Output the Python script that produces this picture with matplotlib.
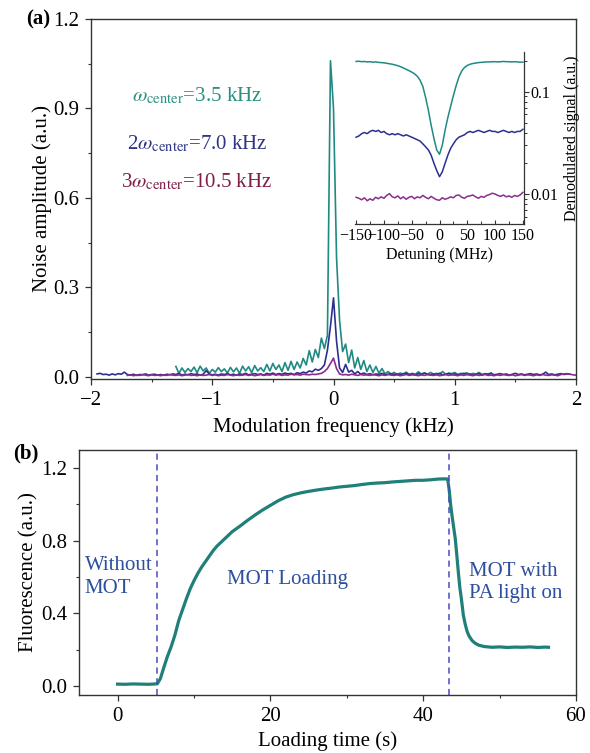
import numpy as np
import matplotlib
matplotlib.use("Agg")
import matplotlib.pyplot as plt
from matplotlib.ticker import MultipleLocator, FormatStrFormatter, FixedLocator, NullFormatter

plt.rcParams['font.family'] = ['Liberation Serif', 'DejaVu Serif']
plt.rcParams['mathtext.fontset'] = 'stix'
plt.rcParams['font.size'] = 15

# ---------------- data: panel (a) noise spectra ----------------
step = 0.025  # kHz sampling
teal_f0 = -1.30
teal = [0.035, 0.012, 0.030, 0.015, 0.028, 0.018, 0.033, 0.014, 0.036, 0.020,
        0.030, 0.012, 0.025, 0.016, 0.031, 0.018, 0.027, 0.013, 0.032, 0.017,
        0.030, 0.012, 0.036, 0.020, 0.034, 0.014, 0.038, 0.020, 0.031, 0.018,
        0.042, 0.020, 0.045, 0.025, 0.040, 0.018, 0.048, 0.022, 0.052, 0.025,
        0.050, 0.030, 0.062, 0.040, 0.088, 0.050, 0.092, 0.065, 0.130, 0.095,
        0.140, 1.060, 0.900, 0.400, 0.190, 0.085, 0.110, 0.048, 0.090, 0.030,
        0.065, 0.025, 0.055, 0.018, 0.040, 0.015, 0.035, 0.012, 0.028, 0.010,
        0.018, 0.009,
        0.015, 0.008, 0.013, 0.010, 0.016, 0.008, 0.012, 0.009, 0.017, 0.010,
        0.013, 0.008, 0.015, 0.009, 0.012, 0.010, 0.018, 0.008, 0.013, 0.011,
        0.015, 0.008, 0.012, 0.010, 0.014, 0.007, 0.012, 0.009, 0.015, 0.008,
        0.011, 0.010, 0.013]

blue_f0 = -1.95
blue = [0.010, 0.012, 0.008, 0.009, 0.006, 0.010, 0.007, 0.011, 0.009, 0.016,
        0.008, 0.006, 0.009, 0.005, 0.008, 0.007, 0.010, 0.006, 0.008, 0.009,
        0.006, 0.008, 0.005, 0.009, 0.007, 0.010, 0.008, 0.012, 0.006, 0.009,
        0.007, 0.011, 0.008, 0.010, 0.006, 0.009, 0.021, 0.010, 0.007, 0.009,
        0.006, 0.010, 0.008, 0.011, 0.007, 0.009, 0.006, 0.010, 0.008, 0.012,
        0.007, 0.009, 0.011, 0.008, 0.010, 0.006, 0.012, 0.009, 0.013, 0.008,
        0.011, 0.009, 0.013, 0.010, 0.012, 0.008, 0.014, 0.011, 0.016, 0.013,
        0.020, 0.017, 0.026, 0.022, 0.028, 0.040, 0.090, 0.170, 0.265, 0.120,
        0.030, 0.015, 0.042, 0.016, 0.022, 0.010, 0.018, 0.009, 0.013, 0.008,
        0.011, 0.007, 0.010, 0.008, 0.012, 0.007, 0.009, 0.011, 0.008, 0.010,
        0.007, 0.009, 0.012, 0.008, 0.010, 0.006, 0.011, 0.008, 0.013, 0.009,
        0.007, 0.010, 0.008, 0.012, 0.007, 0.009, 0.011, 0.008, 0.010, 0.007,
        0.009, 0.012, 0.008, 0.010, 0.006, 0.009, 0.011, 0.007, 0.010, 0.008,
        0.012, 0.007, 0.009, 0.011, 0.008, 0.010, 0.006, 0.009, 0.012, 0.008,
        0.010, 0.007, 0.009, 0.011, 0.008, 0.010, 0.007, 0.009, 0.016, 0.008,
        0.010, 0.007, 0.009, 0.011, 0.008, 0.010, 0.009]

purple_f0 = -1.70
purple = [0.005, 0.007, 0.004, 0.006, 0.005, 0.008, 0.006, 0.004, 0.007, 0.005,
          0.006, 0.004, 0.007, 0.005, 0.008, 0.006, 0.005, 0.007, 0.004, 0.006,
          0.008, 0.005, 0.006, 0.004, 0.007, 0.005, 0.006, 0.008, 0.005, 0.007,
          0.004, 0.006, 0.005, 0.008, 0.006, 0.004, 0.007, 0.005, 0.006, 0.008,
          0.005, 0.007, 0.004, 0.006, 0.008, 0.005, 0.007, 0.006, 0.009, 0.006,
          0.008, 0.005, 0.007, 0.006, 0.009, 0.007, 0.008, 0.006, 0.009, 0.008,
          0.007, 0.009, 0.008, 0.010, 0.012, 0.018, 0.028, 0.045, 0.063, 0.028,
          0.010, 0.007, 0.008, 0.006, 0.009, 0.007, 0.005, 0.008, 0.006, 0.007,
          0.005, 0.008, 0.006, 0.004, 0.007, 0.005, 0.008, 0.006, 0.005, 0.007,
          0.004, 0.006, 0.008, 0.005, 0.007, 0.006, 0.004, 0.007, 0.005, 0.008,
          0.006, 0.005, 0.007, 0.004, 0.006, 0.008, 0.005, 0.007, 0.006, 0.004,
          0.007, 0.005, 0.008, 0.006, 0.004, 0.007, 0.005, 0.006, 0.008, 0.005,
          0.006, 0.004, 0.007, 0.005, 0.008, 0.006, 0.005, 0.007, 0.004, 0.006,
          0.008, 0.005, 0.007, 0.006, 0.004, 0.007, 0.005, 0.008, 0.006, 0.005,
          0.007, 0.006, 0.004, 0.008, 0.010, 0.011, 0.009, 0.007, 0.006]

# ---------------- data: inset (demodulated signal vs detuning) ----------------
detuning = np.arange(-150, 151, 5)
inset_teal = [0.198, 0.199, 0.197, 0.198, 0.196, 0.197, 0.195, 0.196, 0.194, 0.193,
              0.192, 0.190, 0.188, 0.186, 0.183, 0.180, 0.176, 0.171, 0.166, 0.161,
              0.156, 0.150, 0.142, 0.130, 0.113, 0.088, 0.066, 0.047, 0.035, 0.027,
              0.0245, 0.030, 0.042, 0.056, 0.072, 0.092, 0.115, 0.140, 0.160, 0.173,
              0.181, 0.186, 0.189, 0.191, 0.193, 0.194, 0.195, 0.196, 0.196, 0.197,
              0.197, 0.196, 0.197, 0.198, 0.197, 0.197, 0.196, 0.197, 0.196, 0.195,
              0.195]
inset_blue = [0.036, 0.037, 0.039, 0.040, 0.039, 0.041, 0.042, 0.041, 0.042, 0.040,
              0.041, 0.039, 0.038, 0.039, 0.038, 0.039, 0.038, 0.037, 0.038, 0.037,
              0.036, 0.035, 0.034, 0.033, 0.031, 0.029, 0.027, 0.024, 0.020, 0.017,
              0.0148, 0.0165, 0.020, 0.024, 0.028, 0.031, 0.034, 0.036, 0.037, 0.038,
              0.040, 0.041, 0.040, 0.041, 0.042, 0.041, 0.040, 0.041, 0.042, 0.041,
              0.041, 0.040, 0.041, 0.042, 0.041, 0.040, 0.041, 0.040, 0.041, 0.041,
              0.043]
inset_purple = [0.0093, 0.0091, 0.0088, 0.0092, 0.0086, 0.0090, 0.0087, 0.0093, 0.0090, 0.0094,
                0.0091, 0.0097, 0.0101, 0.0094, 0.0092, 0.0096, 0.0090, 0.0094, 0.0089, 0.0093,
                0.0095, 0.0090, 0.0094, 0.0092, 0.0097, 0.0093, 0.0090, 0.0095, 0.0091, 0.0088,
                0.0087, 0.0092, 0.0089, 0.0091, 0.0094, 0.0092, 0.0097, 0.0098, 0.0093, 0.0091,
                0.0095, 0.0096, 0.0098, 0.0094, 0.0091, 0.0095, 0.0093, 0.0097, 0.0099, 0.0102,
                0.0100, 0.0097, 0.0095, 0.0098, 0.0094, 0.0096, 0.0093, 0.0097, 0.0095, 0.0098,
                0.0104]

# ---------------- data: panel (b) MOT loading ----------------
load_t = [0, 1, 2, 3, 4, 5, 5.2, 5.6, 6.0, 6.5, 7.0, 7.5, 8.0, 8.5, 9.0, 9.5,
          10, 10.5, 11, 11.5, 12, 12.5, 13, 13.5, 14, 15, 16, 17, 18, 19, 20,
          21, 22, 23, 24, 25, 26, 27, 28, 29, 30, 31, 32, 33, 34, 35, 36, 37,
          38, 39, 40, 41, 42, 43, 43.2, 43.4, 43.6, 43.8, 44.0, 44.2, 44.4,
          44.6, 44.8, 45.0, 45.25, 45.5, 45.75, 46.0, 46.4, 46.8, 47.3, 48,
          49, 50, 51, 52, 53, 54, 55, 56, 56.4]
load_v = [0.010, 0.009, 0.011, 0.010, 0.009, 0.011, 0.012, 0.040, 0.095, 0.160,
          0.215, 0.280, 0.360, 0.420, 0.480, 0.535, 0.580, 0.620, 0.655, 0.685,
          0.715, 0.745, 0.770, 0.790, 0.810, 0.850, 0.880, 0.912, 0.942, 0.970,
          0.995, 1.020, 1.040, 1.054, 1.064, 1.072, 1.079, 1.085, 1.090, 1.096,
          1.100, 1.104, 1.110, 1.115, 1.118, 1.120, 1.124, 1.127, 1.130, 1.133,
          1.133, 1.136, 1.140, 1.141, 1.140, 1.080, 0.995, 0.930, 0.870, 0.810,
          0.720, 0.626, 0.540, 0.480, 0.390, 0.340, 0.300, 0.275, 0.250, 0.235,
          0.224, 0.217, 0.213, 0.215, 0.212, 0.214, 0.213, 0.215, 0.212, 0.214,
          0.213]
markers_t = [5.2, 43.4]

TEAL = '#1f8a82'
BLUE = '#2b2f8f'
PURPLE = '#8a2d8c'
SPINE = '#333333'


def freqs(f0, vals):
    return np.round(f0 + step * np.arange(len(vals)), 3)


def style(ax):
    for s in ax.spines.values():
        s.set_color(SPINE)
        s.set_linewidth(1.0)
    ax.tick_params(which='major', direction='out', length=4, width=0.9, color=SPINE, pad=4.5)
    ax.tick_params(which='minor', direction='out', length=2.5, width=0.8, color=SPINE)


fig = plt.figure(figsize=(5.9, 7.53), dpi=100)

# ---------------- panel (a) ----------------
ax = fig.add_axes([91 / 590, 1 - 379 / 753, 485 / 590, 360 / 753])
style(ax)
ax.plot(freqs(teal_f0, teal), teal, color=TEAL, lw=1.2)
ax.plot(freqs(blue_f0, blue), blue, color=BLUE, lw=1.2)
ax.plot(freqs(purple_f0, purple), purple, color=PURPLE, lw=1.2)
ax.set_xlim(-2, 2)
ax.set_ylim(-0.007, 1.2)
ax.xaxis.set_major_locator(MultipleLocator(1))
ax.xaxis.set_minor_locator(MultipleLocator(0.5))
ax.yaxis.set_major_locator(MultipleLocator(0.3))
ax.yaxis.set_minor_locator(MultipleLocator(0.15))
ax.yaxis.set_major_formatter(FormatStrFormatter('%.1f'))
ax.set_xlabel('Modulation frequency (kHz)', labelpad=5)
ax.set_ylabel('Noise amplitude (a.u.)', labelpad=1)

ax.text(-1.126, 0.923, r'$\omega_{\rm center}$=3.5 kHz', color='#2a9080', ha='center', va='baseline')
ax.text(-1.126, 0.764, r'2$\omega_{\rm center}$=7.0 kHz', color='#2e3588', ha='center', va='baseline')
ax.text(-1.126, 0.637, r'3$\omega_{\rm center}$=10.5 kHz', color='#7d1f4a', ha='center', va='baseline')
fig.text(26 / 590, 1 - 19 / 753, '(a)', fontweight='bold', va='center', ha='left')

# inset
ins = fig.add_axes([355 / 590, 1 - 224 / 753, 169 / 590, 172 / 753])
ins.patch.set_alpha(0)
ins.plot(detuning, inset_teal, color=TEAL, lw=1.1)
ins.plot(detuning, inset_blue, color=BLUE, lw=1.1)
ins.plot(detuning, inset_purple, color=PURPLE, lw=1.1)
ins.set_yscale('log')
ins.set_ylim(0.0051, 0.245)
ins.set_xlim(-152, 152)
for side in ('left', 'top'):
    ins.spines[side].set_visible(False)
for side in ('right', 'bottom'):
    ins.spines[side].set_color(SPINE)
    ins.spines[side].set_linewidth(0.9)
ins.yaxis.tick_right()
ins.yaxis.set_label_position('right')
ins.yaxis.set_major_locator(FixedLocator([0.01, 0.1]))
ins.yaxis.set_minor_locator(FixedLocator([0.006, 0.007, 0.008, 0.009, 0.02, 0.03, 0.04,
                                          0.05, 0.06, 0.07, 0.08, 0.09, 0.2]))
ins.yaxis.set_minor_formatter(NullFormatter())
ins.set_yticklabels(['0.01', '0.1'])
ins.xaxis.set_major_locator(MultipleLocator(50))
ins.xaxis.set_minor_locator(MultipleLocator(25))
ins.tick_params(axis='y', which='major', direction='out', length=3.5, width=0.8,
                labelsize=11.5, pad=1, color=SPINE)
ins.tick_params(axis='y', which='minor', direction='out', length=2, width=0.7, color=SPINE)
ins.tick_params(axis='x', which='major', direction='in', length=3, width=0.8,
                labelsize=11.5, pad=3, color=SPINE)
ins.tick_params(axis='x', which='minor', direction='in', length=2, width=0.7, color=SPINE)
ins.set_xlabel('Detuning (MHz)', fontsize=11.5, labelpad=2)
ins.set_ylabel('Demodulated signal (a.u.)', fontsize=11.5, labelpad=4)

# ---------------- panel (b) ----------------
bx = fig.add_axes([79.4 / 590, 1 - 695 / 753, 496.6 / 590, 245 / 753])
style(bx)
bx.plot(load_t, load_v, color='#1e8078', lw=2.3)
for tm in markers_t:
    bx.axvline(tm, color='#4a4ac0', lw=1.1, ls=(0, (4, 3)))
bx.set_xlim(-5, 60)
bx.set_ylim(-0.05, 1.3)
bx.xaxis.set_major_locator(MultipleLocator(20))
bx.xaxis.set_minor_locator(MultipleLocator(10))
bx.yaxis.set_major_locator(MultipleLocator(0.4))
bx.yaxis.set_minor_locator(MultipleLocator(0.2))
bx.yaxis.set_major_formatter(FormatStrFormatter('%.1f'))
bx.set_xlabel('Loading time (s)', labelpad=4)
bx.set_ylabel('Fluorescence (a.u.)', labelpad=2)

TXT = '#2c4f9e'
bx.text(-4.3, 0.60, 'Without\nMOT', color=TXT, ha='left', va='center', linespacing=1.25)
bx.text(22.3, 0.585, 'MOT Loading', color=TXT, ha='center', va='center')
bx.text(46.0, 0.57, 'MOT with\nPA light on', color=TXT, ha='left', va='center', linespacing=1.25)
fig.text(13 / 590, 1 - 453 / 753, '(b)', fontweight='bold', va='center', ha='left')

fig.savefig('out.png', dpi=100)
